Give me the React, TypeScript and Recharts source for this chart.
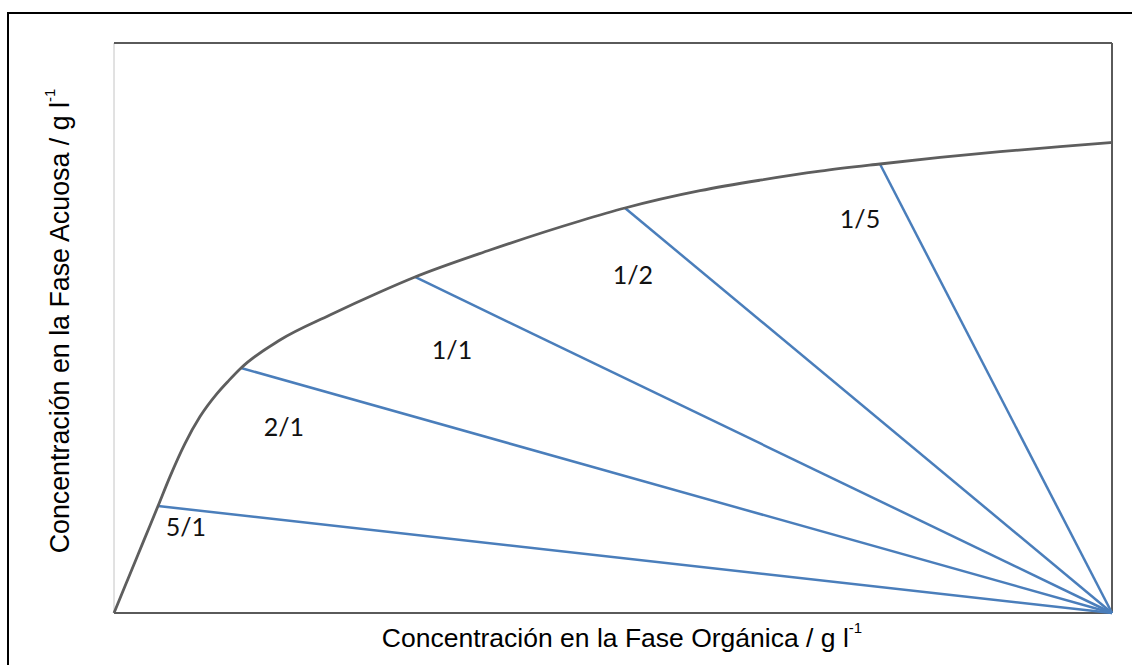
import React from 'react';
import {
  ComposedChart,
  Line,
  Scatter,
  XAxis,
  YAxis,
  ReferenceLine,
  Label,
} from 'recharts';

// Equilibrium curve (organic phase x, aqueous phase y), arbitrary units 0–100
const curveX = [0, 1.2, 2.4, 3.61, 4.41, 5.61, 7.11, 8.62, 10.32, 11.52, 12.73, 16.63, 21.64, 26.65, 30.16, 37.68, 46.69, 51.2, 58.72, 64.73, 70.74, 76.75, 82.77, 88.78, 94.79, 100];
const curveY = [0, 5.12, 10.23, 15.35, 18.77, 23.93, 29.72, 34.46, 38.49, 40.81, 42.98, 47.89, 52.28, 56.32, 58.95, 63.68, 68.77, 71.05, 74.09, 75.93, 77.51, 78.77, 79.93, 80.93, 81.82, 82.56];

// Operating lines: each phase ratio starts on the curve and ends at the common pivot
const ratioNames = ['5/1', '2/1', '1/1', '1/2', '1/5'];
const tieX = [4.41, 12.73, 30.16, 51.2, 76.75];
const tieY = [18.77, 42.98, 58.95, 71.05, 78.77];
const pivot = { x: 100, y: 0 };

// Where each ratio name is written
const labelX = [7.21, 17.03, 33.87, 52.0, 74.75];
const labelY = [15.26, 32.8, 46.3, 59.5, 69.3];

const curveData = curveX.map((x, i) => ({ x, y: curveY[i] }));
const tieLines = ratioNames.map((name, i) => ({
  name,
  data: [{ x: tieX[i], y: tieY[i] }, pivot],
}));
const labelData = ratioNames.map((label, i) => ({ x: labelX[i], y: labelY[i], label }));

const BLUE = '#4a7ebb';
const GREY = '#5e5e5e';
const FRAME = '#5a5a5a';
const TITLE_FONT = '"Liberation Sans", Arial, sans-serif';

const XTitle = (props: any) => {
  const vb = props.viewBox || { x: 114, y: 613, width: 998, height: 52 };
  const cx = vb.x + vb.width / 2 + 9;
  const by = vb.y + 34;
  return (
    <text x={cx} y={by} textAnchor="middle" fontFamily={TITLE_FONT} fontSize={26.5} fill="#000">
      Concentración en la Fase Orgánica / g l
      <tspan fontSize={15} dy={-14}>-1</tspan>
    </text>
  );
};

const YTitle = (props: any) => {
  const vb = props.viewBox || { x: 0, y: 43, width: 114, height: 570 };
  const bx = vb.x + 69;
  const cy = vb.y + vb.height / 2 - 7;
  return (
    <text
      x={bx}
      y={cy}
      textAnchor="middle"
      transform={`rotate(-90, ${bx}, ${cy})`}
      fontFamily={TITLE_FONT}
      fontSize={26.8}
      fill="#000"
    >
      Concentración en la Fase Acuosa / g l
      <tspan fontSize={15} dy={-14}>-1</tspan>
    </text>
  );
};

const RatioText = (props: any) => {
  const { cx, cy, payload } = props;
  return (
    <text
      x={cx}
      y={cy}
      textAnchor="middle"
      dominantBaseline="central"
      fontFamily="Lato, 'Open Sans', sans-serif"
      fontSize={25}
      fill="#111"
    >
      {payload.label}
    </text>
  );
};

export default function App() {
  return (
    <div
      style={{
        position: 'fixed',
        left: 0,
        top: 0,
        width: 1132,
        height: 665,
        overflow: 'hidden',
        background: '#fff',
      }}
    >
      <div
        style={{
          position: 'absolute',
          left: 7,
          top: 12,
          width: 1140,
          height: 680,
          borderLeft: '2px solid #000',
          borderTop: '2px solid #000',
        }}
      />
      <div style={{ position: 'absolute', left: 0, top: 0 }}>
        <ComposedChart width={1132} height={665} margin={{ top: 43, right: 20, bottom: 0, left: 0 }}>
          <XAxis
            type="number"
            dataKey="x"
            domain={[0, 100]}
            height={52}
            tick={false}
            tickLine={false}
            axisLine={false}
          >
            <Label content={XTitle} />
          </XAxis>
          <YAxis
            type="number"
            dataKey="y"
            domain={[0, 100]}
            width={114}
            tick={false}
            tickLine={false}
            axisLine={false}
          >
            <Label content={YTitle} />
          </YAxis>

          <ReferenceLine x={0} stroke="#c4c4c4" strokeWidth={1} />
          <ReferenceLine y={100} stroke={FRAME} strokeWidth={2} />
          <ReferenceLine x={100} stroke={FRAME} strokeWidth={2} />
          <ReferenceLine y={0} stroke={FRAME} strokeWidth={2} />

          {tieLines.map((t) => (
            <Line
              key={t.name}
              data={t.data}
              dataKey="y"
              type="linear"
              stroke={BLUE}
              strokeWidth={2.5}
              dot={false}
              activeDot={false}
              isAnimationActive={false}
            />
          ))}

          <Line
            data={curveData}
            dataKey="y"
            type="monotone"
            stroke={GREY}
            strokeWidth={2.8}
            dot={false}
            activeDot={false}
            isAnimationActive={false}
          />

          <Scatter data={labelData} dataKey="y" shape={RatioText} isAnimationActive={false} />
        </ComposedChart>
      </div>
    </div>
  );
}
